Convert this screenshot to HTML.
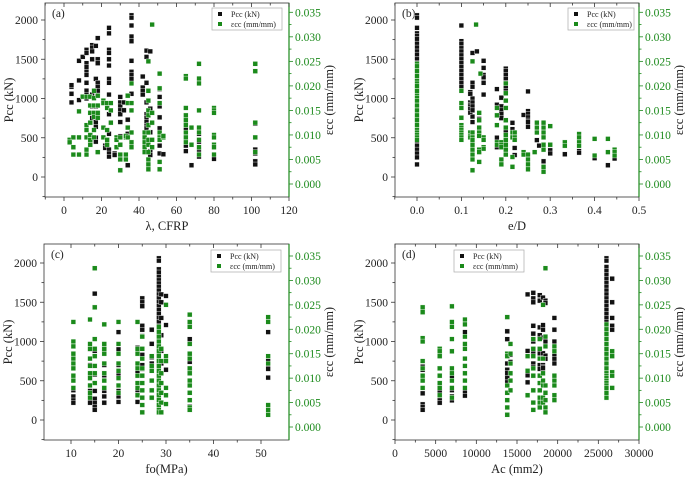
<!DOCTYPE html>
<html><head><meta charset="utf-8"><style>
html,body{margin:0;padding:0;background:#fff;}
svg{display:block;}
svg text{font-family:"Liberation Serif","Times New Roman",serif;}
</style></head><body>
<svg id="chart" width="685" height="477" font-family="Liberation Serif, serif"></svg>
<script>
// ---------- DATA (clusters: x value, list of y values) ----------
const aPccX=[4,8,10,12,15,17,18,22,24,27,30,32,34,36,42,44,46,51,53,65,68,72,80,102];
const aPccY=[[1150,1170,950,1060],[1480,1230,980],[1530],[1620,1580,1450,1400,1340,1300,1200,1100,1050,1000],[1680,1650,1600,1500,1050,900,800,750],[1670,1250,1100,900,800,700,640,500,450],[1770,1500,1450,1200,1150,1100],[400,370],[1900,1830,1620,1580,1500,1420,1250,1200,1050,800,550,350,300,260],[300,280],[1020,950,900,850,800,700,520],[950,850],[730,550,150],[2060,2030,1930,1790,1730,1480,1340,1300,1250,1060],[1280,1140,1100,1050],[1610,1530,1200,950,800,750,700,650,620],[1600,870,570,330,280],[1120,1020,900,760,620,500,400,300],[290],[700,600,500,400,330],[150],[1220,620,550,450,350,300,260],[380,250,230],[680,350,300,200,160]];
const aEpsX=[3,5,8,10,12,14,16,18,21,23,25,28,30,33,34,36,43,45,47,51,53,65,68,72,80,102];
const aEpsY=[[0.009,0.0085],[0.0095,0.0075,0.006],[0.0095,0.0148,0.006],[0.0178],[0.0178,0.012,0.011,0.0095,0.007,0.006],[0.0178,0.016,0.0145,0.0125,0.010,0.009,0.008],[0.019,0.0175,0.016,0.0145,0.0137,0.011,0.0095],[0.018,0.016,0.0145,0.0135,0.0065],[0.017,0.0165,0.0115,0.0095],[0.0165,0.0155,0.011,0.009,0.008],[0.0165,0.015,0.0125],[0.0095,0.009,0.0075],[0.0095,0.008,0.006,0.005,0.0028],[0.0095,0.0098,0.006,0.005],[0.018,0.0165,0.0115,0.0095],[0.0205,0.0165,0.015,0.0105,0.0085,0.0075],[0.0105,0.0095,0.0085,0.0075,0.0065],[0.025,0.019,0.017,0.015,0.014,0.012,0.0105,0.009,0.008,0.0065,0.005,0.004,0.003],[0.0325,0.0145,0.0125,0.009,0.0075],[0.0225,0.0195,0.0165,0.0105,0.0095,0.009,0.0045,0.003],[0.0095,0.0098],[0.022,0.0215,0.0155,0.014,0.013,0.012,0.0105,0.0095,0.0085],[0.0115,0.008],[0.0245,0.0215,0.0205,0.015,0.0115,0.0105,0.009,0.0075,0.006],[0.0155,0.015,0.0145,0.010,0.0095,0.008,0.0075,0.006],[0.0245,0.023,0.0125,0.0095,0.0065]];

const bPccX=[0,0.1,0.12,0.125,0.135,0.14,0.15,0.18,0.19,0.2,0.215,0.22,0.24,0.25,0.27,0.275,0.285,0.3,0.333,0.365,0.4,0.43,0.445];
const bPccY=[[2060,2030,1900,1830,1800,1760,1700,1650,1600,1560,1500,1450,1400,1350,1300,1250,1200,1150,1100,1050,1000,950,900,850,800,750,700,650,600,550,500,450,400,350,300,250,160],[1930,1730,1700,1640,1600,1550,1500,1450,1400,1350,1300,1250,1200,1150],[1080,1060,950,920,900,870,820],[1580,1200,1150,1000,950,900,850,770,700],[1600],[740,540],[1480,1390,1300,1270,1200,1050],[1120,920,500,380],[1010,900,850,800,750],[1380,1350,1300,1250,1200,1150,1100,580],[690,610],[370,280],[790],[1090,840,800,760,720,700,640],[470],[400],[680,530,200,130],[340,300],[290],[330,310],[260,240],[150],[235]];
const bEpsX=[0,0.1,0.12,0.125,0.133,0.14,0.143,0.15,0.18,0.19,0.2,0.215,0.22,0.24,0.25,0.265,0.27,0.285,0.3,0.333,0.365,0.4,0.43,0.445];
const bEpsY=[[0.0245,0.024,0.023,0.022,0.021,0.0205,0.02,0.019,0.018,0.0175,0.017,0.016,0.015,0.014,0.013,0.012,0.011,0.0105,0.01,0.0095,0.009],[0.019,0.0165,0.0155,0.0135,0.012,0.0115,0.011,0.0105,0.010,0.0095,0.009],[0.0105,0.0098,0.0095],[0.025,0.0105,0.0095,0.009,0.008,0.007,0.006,0.005,0.0028],[0.0325],[0.0145,0.013,0.0115,0.0105,0.0098,0.007,0.0065,0.0045],[0.0225],[0.0095,0.009,0.0075,0.0072],[0.0155,0.014,0.012,0.0085,0.008],[0.0085,0.008,0.0075,0.005,0.004],[0.0205,0.0185,0.017,0.0155,0.013,0.0115,0.01,0.009,0.008,0.007,0.006],[0.0105,0.0095,0.0055,0.0035],[0.0105,0.0095,0.009],[0.0065,0.006],[0.006,0.005,0.004,0.003],[0.0065],[0.0125,0.0115,0.0105],[0.0125,0.0115,0.0105,0.0095,0.008,0.007,0.0035,0.0025],[0.0118,0.008],[0.0085,0.0078],[0.0102,0.0095,0.0085,0.0078],[0.0092,0.0058],[0.0092,0.0065],[0.007,0.0065,0.0058]];

const cPccX=[10.5,14,15,17,20,24,25,27,28.5,29,30,35,51.5];
const cPccY=[[380,300,250,220],[900,700,580,370,300,250,220],[1610,880,580,370,270,220,170,130],[900,700,570,370,300,220],[1120,900,700,580,370,300,230],[920,700,600,380,320,230],[1550,1500,1450,1200,1150,1070,830,700,650],[1150,970,800,720],[2060,2030,1920,1880,1820,1780,1740,1700,1650,1600,1550,1500,1450,1400,1350,1300,1250,1200,1150,1100,1050,1000,950,900,850,800,750,700],[1600,1500,1300,1080,880,720],[1580,1210,800,750,640],[1220,1030,740,650,600,170,130],[1300,1120,750,700,650,540]];
const cEpsX=[10.5,14,15,17,20,24,25,27,28.5,29,30,35,51.5];
const cEpsY=[[0.0215,0.0175,0.0165,0.015,0.014,0.013,0.012,0.0105,0.0095,0.008],[0.022,0.017,0.016,0.014,0.0125,0.011,0.01,0.0085,0.007,0.006],[0.0325,0.0245,0.018,0.016,0.0145,0.0125,0.011,0.009],[0.021,0.017,0.016,0.015,0.013,0.011,0.0095,0.008],[0.0215,0.017,0.015,0.013,0.0115,0.01,0.0085,0.007],[0.0215,0.016,0.015,0.013,0.012,0.0105,0.009,0.008,0.0065],[0.0185,0.016,0.014,0.012,0.0105,0.009,0.0075,0.006,0.0045,0.003],[0.0145,0.0125,0.0115,0.0095,0.0075,0.006],[0.0205,0.0195,0.0185,0.0175,0.0165,0.0155,0.0145,0.0135,0.0125,0.0115,0.0105,0.0095,0.0085,0.0075,0.0065,0.0055,0.0045,0.0035,0.003],[0.016,0.0135,0.011,0.009,0.007,0.005,0.003],[0.025,0.0145,0.0135,0.008,0.0065,0.0047],[0.023,0.0215,0.0205,0.017,0.015,0.014,0.012,0.011,0.0095,0.0085,0.007,0.0055,0.004,0.0035],[0.0225,0.0215,0.0145,0.013,0.0045,0.0035,0.0025]];

const dPccX=[3400,5500,7000,8600,13800,14200,16300,17000,17800,18200,18500,19600,26000,26700];
const dPccY=[[680,640,340,200,170,130],[370,250,220],[1240,1200,600,560,380,300,250],[1120,360,310],[1310,1130,1030,720,640,600,540,480],[830,740],[1600,880,570,480],[1620,1550,1500,1200,1100,1000,900,850,720,680],[1590,1520,1180,1080,900,850,700,650],[1560,1210,1150,1050,850,700,680,660],[1520,1490,1000,820,780],[1300,1150,1000,830,780,720],[2060,2030,1950,1900,1850,1800,1750,1700,1650,1600,1550,1500,1450,1400,1350,1300,1250,1200],[1800,1500,1300,1200,1150]];
const dEpsX=[3400,5500,7000,8600,13800,14200,16300,17000,17800,18200,18500,19600,26000,26700];
const dEpsY=[[0.0245,0.0235,0.0182,0.0175,0.0135,0.012,0.0105,0.0095,0.008],[0.016,0.0155,0.0145,0.012,0.0105,0.009,0.008,0.0065],[0.0247,0.0215,0.0205,0.018,0.0155,0.012,0.011,0.0095,0.008,0.006],[0.022,0.021,0.0185,0.017,0.016,0.014,0.0125,0.011,0.0095,0.008],[0.0225,0.015,0.0145,0.0085,0.007,0.0055,0.004,0.0025],[0.017,0.015,0.013,0.011,0.0095,0.0075],[0.0145,0.0115,0.0065],[0.018,0.016,0.0145,0.012,0.0105,0.0075,0.005,0.0035],[0.018,0.016,0.014,0.0105,0.009,0.0075,0.006,0.005,0.004],[0.025,0.014,0.011,0.0095,0.0085,0.006,0.005],[0.0325,0.0185,0.0165,0.0085,0.007,0.0055,0.004,0.003],[0.0165,0.0155,0.0105,0.0095,0.0085,0.0065,0.0055],[0.021,0.02,0.019,0.018,0.017,0.016,0.015,0.014,0.013,0.012,0.011,0.0105,0.01,0.0095,0.009,0.0085,0.008,0.007,0.006],[0.0155,0.0145,0.0112,0.0105,0.008]];

const xTicksA=[0,20,40,60,80,100,120], xLabA=["0","20","40","60","80","100","120"];
const xTicksB=[0,0.1,0.2,0.3,0.4,0.5], xLabB=["0.0","0.1","0.2","0.3","0.4","0.5"];
const xTicksC=[10,20,30,40,50], xLabC=["10","20","30","40","50"];
const xTicksD=[0,5000,10000,15000,20000,25000,30000], xLabD=["0","5000","10000","15000","20000","25000","30000"];
const yLTicks=[0,500,1000,1500,2000];
const yRTicks=[0,0.005,0.01,0.015,0.02,0.025,0.03,0.035];
const yRLab=["0.000","0.005","0.010","0.015","0.020","0.025","0.030","0.035"];

// ---------- drawing ----------
const NS="http://www.w3.org/2000/svg";
const svg=document.getElementById('chart');
const GREEN="#1b8a1b";
const FF="Liberation Serif, serif";
function mk(tag,attrs,parent,text){const e=document.createElementNS(NS,tag);for(const k in attrs)e.setAttribute(k,attrs[k]);if(tag==='text')e.setAttribute('font-family',FF);if(text!==undefined)e.textContent=text;(parent||svg).appendChild(e);return e;}
function lin(d0,r0,d1,r1){return v=>r0+(v-d0)*(r1-r0)/(d1-d0);}

const panels=[
 {id:'a',L:45,R:289,T:3,B:197,x:lin(0,64,120,289),yl:lin(0,177,2000,20),yr:lin(0,184,0.035,12.3),xt:xTicksA,xl:xLabA,xmin:[10,30,50,70,90,110,-10],title:"λ, CFRP",lg:[212,8,70,22],
  P:[aPccX,aPccY],E:[aEpsX,aEpsY]},
 {id:'b',L:395,R:639,T:3,B:197,x:lin(0,417,0.5,639),yl:lin(0,177,2000,20),yr:lin(0,184,0.035,12.3),xt:xTicksB,xl:xLabB,xmin:[-0.05,0.05,0.15,0.25,0.35,0.45],title:"e/D",lg:[568,8,66,22],
  P:[bPccX,bPccY],E:[bEpsX,bEpsY]},
 {id:'c',L:44,R:289,T:244,B:440,x:lin(10,71,50,261),yl:lin(0,420,2000,263),yr:lin(0,427,0.035,256),xt:xTicksC,xl:xLabC,xmin:[15,25,35,45],title:"fo(MPa)",lg:[211,250,70,22],
  P:[cPccX,cPccY],E:[cEpsX,cEpsY]},
 {id:'d',L:395,R:639,T:244,B:440,x:lin(0,395,30000,639),yl:lin(0,420,2000,263),yr:lin(0,427,0.035,256),xt:xTicksD,xl:xLabD,xmin:[2500,7500,12500,17500,22500,27500],title:"Ac (mm2)",lg:[454,250,70,22],
  P:[dPccX,dPccY],E:[dEpsX,dEpsY]}
];

panels.forEach(p=>{
  const g=mk('g',{});  
  const fr=mk('rect',{x:p.L,y:p.T,width:p.R-p.L,height:p.B-p.T,fill:'none',stroke:'#333','stroke-width':0.8},g);
   
  const ra=mk('line',{x1:p.R,y1:p.T,x2:p.R,y2:p.B,stroke:GREEN,'stroke-width':1.2},g);
   
  p.xt.forEach((v,i)=>{const X=p.x(v);
    mk('line',{x1:X,y1:p.B,x2:X,y2:p.B+4,stroke:'#333','stroke-width':0.8},g);
    mk('line',{x1:X,y1:p.T,x2:X,y2:p.T+4,stroke:'#333','stroke-width':0.8},g);
    const t=mk('text',{x:X,y:p.B+17,'text-anchor':'middle','font-size':11.5,fill:'#222'},g,p.xl[i]);
     });
  p.xmin.forEach(v=>{const X=p.x(v); if(X<p.L-0.5||X>p.R+0.5)return;
    mk('line',{x1:X,y1:p.B,x2:X,y2:p.B+2.5,stroke:'#333','stroke-width':0.8},g);
    mk('line',{x1:X,y1:p.T,x2:X,y2:p.T+2.5,stroke:'#333','stroke-width':0.8},g);});
  yLTicks.forEach(v=>{const Y=p.yl(v);
    mk('line',{x1:p.L-4,y1:Y,x2:p.L,y2:Y,stroke:'#333','stroke-width':0.8},g);
    const Ym=p.yl(v+250); if(Ym>p.T) mk('line',{x1:p.L-2.5,y1:Ym,x2:p.L,y2:Ym,stroke:'#333','stroke-width':0.8},g);
    const t=mk('text',{x:p.L-7,y:Y+4,'text-anchor':'end','font-size':11.5,fill:'#222'},g,String(v));
     });
  const Ym0=p.yl(-250); mk('line',{x1:p.L-2.5,y1:Ym0,x2:p.L,y2:Ym0,stroke:'#333','stroke-width':0.8},g);
  yRTicks.forEach((v,i)=>{const Y=p.yr(v);
    mk('line',{x1:p.R,y1:Y,x2:p.R+4,y2:Y,stroke:GREEN,'stroke-width':0.8},g);
    const Ym=p.yr(v+0.0025); if(Ym>p.T) mk('line',{x1:p.R,y1:Ym,x2:p.R+2.5,y2:Ym,stroke:GREEN,'stroke-width':0.8},g);
    const t=mk('text',{x:p.R+6,y:Y+4,'font-size':11.5,fill:GREEN},g,yRLab[i]);
     });
  const cx=(p.L+p.R)/2;
  const xt=mk('text',{x:cx,y:p.B+33,'text-anchor':'middle','font-size':12.5,fill:'#222'},g,p.title);
   
  const cy=(p.T+p.B)/2;
  const yt=mk('text',{x:0,y:0,'text-anchor':'middle','font-size':12.5,fill:'#222',transform:`translate(${p.L-32},${cy}) rotate(-90)`},g,'Pcc (kN)');
   
  const yt2=mk('text',{x:0,y:0,'text-anchor':'middle','font-size':12.5,fill:'#222',transform:`translate(${p.R+44},${cy}) rotate(-90)`},g,'εcc (mm/mm)');
   
  const pl=mk('text',{x:p.L+7,y:p.T+14,'font-size':11.5,fill:'#222'},g,'('+p.id+')');
   
  const pg=mk('g',{},g);  
  p.P[0].forEach((xv,i)=>p.P[1][i].forEach(yv=>{
    const r=mk('rect',{x:p.x(xv)-2.4,y:p.yl(yv)-2.4,width:4.8,height:4.8,fill:'#111',stroke:'#fff','stroke-width':0.4},pg);
     }));
  const eg=mk('g',{},g);  
  p.E[0].forEach((xv,i)=>p.E[1][i].forEach(yv=>{
    const r=mk('rect',{x:p.x(xv)-2.4,y:p.yr(yv)-2.4,width:4.8,height:4.8,fill:GREEN,stroke:'#fff','stroke-width':0.4},eg);
     }));
  const [lx,ly,lw,lh]=p.lg;
  const lg=mk('g',{},g);  
  mk('rect',{x:lx,y:ly,width:lw,height:lh,fill:'#fff',stroke:'#aaa','stroke-width':0.7},lg);
  mk('rect',{x:lx+6,y:ly+4,width:4,height:4,fill:'#111'},lg);
  mk('rect',{x:lx+6,y:ly+14,width:4,height:4,fill:GREEN},lg);
  const l1=mk('text',{x:lx+19,y:ly+9,'font-size':8,fill:'#222'},lg,'Pcc (kN)');
   
  const l2=mk('text',{x:lx+19,y:ly+19,'font-size':8,fill:'#222'},lg,'εcc (mm/mm)');
   
});
</script>
</body></html>
